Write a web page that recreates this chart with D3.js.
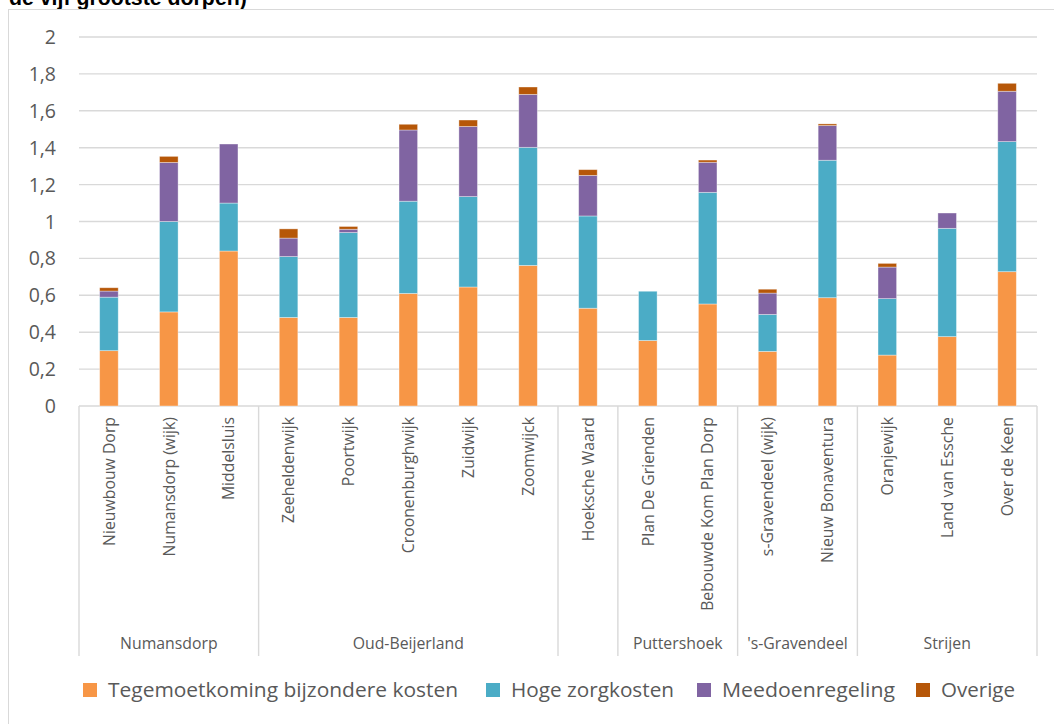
<!DOCTYPE html>
<html>
<head>
<meta charset="utf-8">
<script src="https://cdn.jsdelivr.net/npm/d3@7"></script>
<style>
  html, body { margin: 0; padding: 0; background: #fff; }
  svg { display: block; }
</style>
</head>
<body>
<svg id="chart" width="1054" height="724"></svg>
<script>
const categories = ["Nieuwbouw Dorp", "Numansdorp (wijk)", "Middelsluis", "Zeeheldenwijk", "Poortwijk",
  "Croonenburghwijk", "Zuidwijk", "Zoomwijck", "Hoeksche Waard", "Plan De Grienden",
  "Bebouwde Kom Plan Dorp", "s-Gravendeel (wijk)", "Nieuw Bonaventura", "Oranjewijk",
  "Land van Essche", "Over de Keen"];
const groups = ["Numansdorp", "Numansdorp", "Numansdorp", "Oud-Beijerland", "Oud-Beijerland",
  "Oud-Beijerland", "Oud-Beijerland", "Oud-Beijerland", "", "Puttershoek", "Puttershoek",
  "'s-Gravendeel", "'s-Gravendeel", "Strijen", "Strijen", "Strijen"];
const seriesNames = ["Tegemoetkoming bijzondere kosten", "Hoge zorgkosten", "Meedoenregeling", "Overige"];
const tegemoetkoming = [0.30, 0.51, 0.84, 0.48, 0.48, 0.61, 0.645, 0.762, 0.53, 0.355, 0.553, 0.296, 0.587, 0.276, 0.376, 0.728];
const hogeZorgkosten = [0.29, 0.49, 0.26, 0.33, 0.46, 0.50, 0.49, 0.64, 0.50, 0.267, 0.605, 0.20, 0.745, 0.306, 0.587, 0.705];
const meedoenregeling = [0.033, 0.32, 0.32, 0.10, 0.018, 0.386, 0.38, 0.287, 0.22, 0, 0.163, 0.116, 0.188, 0.171, 0.083, 0.273];
const overige = [0.018, 0.033, 0, 0.05, 0.015, 0.031, 0.035, 0.04, 0.031, 0, 0.012, 0.021, 0.009, 0.02, 0, 0.043];
const yTicks = [0, 0.2, 0.4, 0.6, 0.8, 1, 1.2, 1.4, 1.6, 1.8, 2];
const colors = ["#F79646", "#4BACC6", "#8064A2", "#B65708"];

const svg = d3.select("#chart");
const plotLeft = 79, plotRight = 1037, plotTop = 37, plotBottom = 406;
const textColor = "#595959";
const gridColor = "#d9d9d9";

// Title (partially cut off)
svg.append("text").attr("x", 9).attr("y", 5)
  .attr("font-family", "Liberation Sans, Arial, sans-serif")
  .attr("font-weight", "bold").attr("font-size", 21.3).attr("fill", "#000")
  .text("de vijf grootste dorpen)");

// Chart border
svg.append("rect").attr("x", 8.5).attr("y", 9.5).attr("width", 1100).attr("height", 800)
  .attr("fill", "none").attr("stroke", gridColor).attr("stroke-width", 1);

const x = d3.scaleBand().domain(d3.range(categories.length)).range([plotLeft, plotRight])
  .paddingInner(0.69).paddingOuter(0.345);
const y = d3.scaleLinear().domain([0, 2]).range([plotBottom, plotTop]);

// Gridlines
svg.append("g").selectAll("line").data(yTicks).join("line")
  .attr("x1", plotLeft).attr("x2", plotRight)
  .attr("y1", d => y(d)).attr("y2", d => y(d))
  .attr("stroke", gridColor).attr("stroke-width", 1.4);

// Y labels
svg.append("g").selectAll("text").data(yTicks).join("text")
  .attr("x", 56).attr("y", d => y(d)).attr("dy", "0.36em")
  .attr("text-anchor", "end")
  .attr("font-family", "Open Sans, sans-serif").attr("font-size", 19.5).attr("fill", textColor)
  .text(d => d3.format(".1~f")(d).replace(".", ","));

// Stack
const table = categories.map((c, i) => ({
  i, s0: tegemoetkoming[i], s1: hogeZorgkosten[i], s2: meedoenregeling[i], s3: overige[i]
}));
const stack = d3.stack().keys(["s0", "s1", "s2", "s3"])(table);

svg.append("g").selectAll("g").data(stack).join("g")
  .attr("fill", (d, k) => colors[k])
  .selectAll("rect").data(d => d.filter(p => p[1] - p[0] > 0)).join("rect")
  .attr("x", d => x(d.data.i)).attr("width", x.bandwidth())
  .attr("y", d => y(d[1])).attr("height", d => y(d[0]) - y(d[1]))
  .attr("stroke", "#ffffff").attr("stroke-opacity", 0.45).attr("stroke-width", 0.8);

// Category labels
svg.append("g").selectAll("text").data(categories).join("text")
  .attr("transform", (d, i) => `translate(${x(i) + x.bandwidth() / 2},417) rotate(-90)`)
  .attr("dy", "0.36em").attr("text-anchor", "end")
  .attr("font-family", "Open Sans, sans-serif").attr("font-size", 15.8).attr("fill", textColor)
  .text(d => d);

// Group spans
const step = x.step();
const spans = [];
groups.forEach((g, i) => {
  const last = spans[spans.length - 1];
  if (last && last.name === g && g !== "") last.end = i; else spans.push({ name: g, start: i, end: i });
});
const bx = i => plotLeft + i * step;
const sepPositions = [0].concat(spans.map(s => s.end + 1));
svg.append("g").selectAll("line").data(sepPositions).join("line")
  .attr("x1", d => bx(d)).attr("x2", d => bx(d))
  .attr("y1", plotBottom).attr("y2", 656)
  .attr("stroke", gridColor).attr("stroke-width", 1.4);
svg.append("g").selectAll("text").data(spans).join("text")
  .attr("x", d => (bx(d.start) + bx(d.end + 1)) / 2).attr("y", 649)
  .attr("text-anchor", "middle")
  .attr("font-family", "Open Sans, sans-serif").attr("font-size", 15.8).attr("fill", textColor)
  .text(d => d.name);

// Legend
const legendX = [83, 486, 697, 916];
const legendW = [350, 163, 173, 74];
const lg = svg.append("g").selectAll("g").data(seriesNames).join("g")
  .attr("transform", (d, k) => `translate(${legendX[k]},683)`);
lg.append("rect").attr("width", 14).attr("height", 14).attr("fill", (d, k) => colors[k]);
lg.append("text").attr("x", 25).attr("y", 7).attr("dy", "0.36em")
  .attr("font-family", "Open Sans, sans-serif").attr("font-size", 20).attr("fill", textColor)
  .attr("textLength", (d, k) => legendW[k]).attr("lengthAdjust", "spacingAndGlyphs")
  .text(d => d);
</script>
</body>
</html>
